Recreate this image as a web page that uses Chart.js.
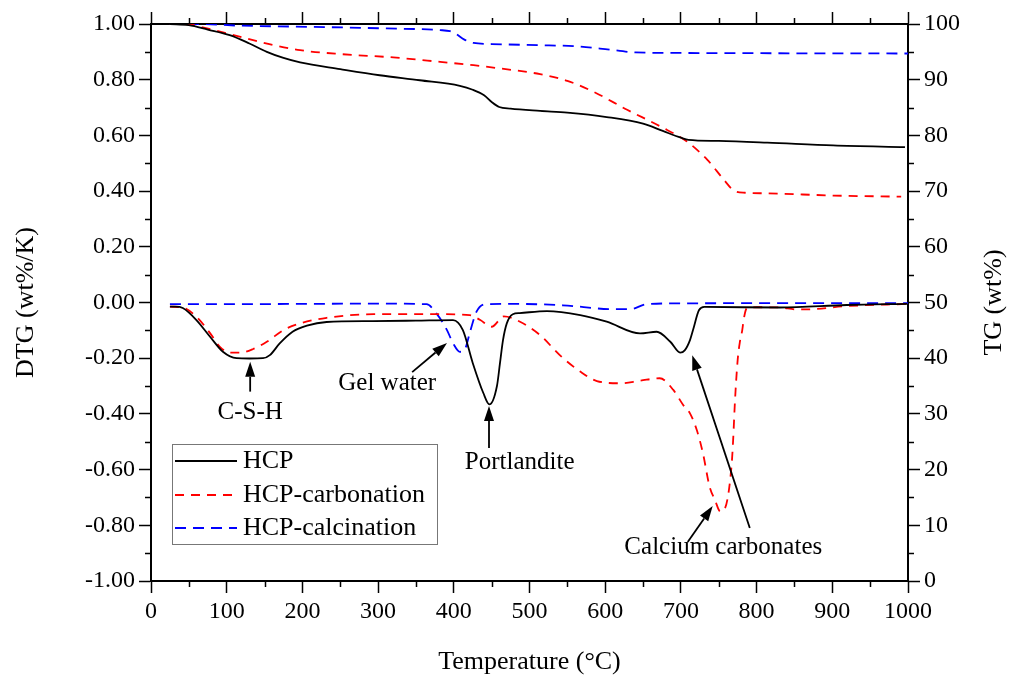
<!DOCTYPE html>
<html>
<head>
<meta charset="utf-8">
<script src="https://cdn.jsdelivr.net/npm/chart.js@4.4.1/dist/chart.umd.min.js"></script>
<style>
  html, body { margin: 0; padding: 0; background: #fff; }
</style>
</head>
<body>
<canvas id="tga" width="1011" height="680"></canvas>
<script>
// series names
const seriesNames = ["HCP", "HCP-carbonation", "HCP-calcination"];

// DTG curves (left axis, wt%/K)
const hcpDtgT = [25, 32, 42, 60, 78, 95, 113, 130, 148, 157, 170, 187, 206, 232, 293, 350, 399, 412, 425, 439, 447, 457, 461, 465, 470, 478, 487, 523, 567, 602, 646, 668, 686, 699, 705, 712, 716, 724, 731, 831, 919, 999];
const hcpDtg = [-0.015, -0.015, -0.02, -0.063, -0.123, -0.177, -0.2, -0.201, -0.2, -0.189, -0.147, -0.105, -0.083, -0.07, -0.067, -0.065, -0.063, -0.099, -0.217, -0.325, -0.366, -0.3, -0.218, -0.135, -0.075, -0.042, -0.038, -0.031, -0.045, -0.069, -0.111, -0.105, -0.141, -0.18, -0.172, -0.135, -0.099, -0.027, -0.016, -0.018, -0.009, -0.005];

const carbDtgT = [25, 42, 60, 78, 91, 104, 118, 135, 153, 175, 197, 232, 294, 382, 421, 435, 450, 466, 483, 514, 540, 567, 589, 620, 646, 672, 690, 703, 712, 721, 729, 738, 745, 752, 758, 767, 769, 771.5, 775, 778, 781, 783, 787, 800, 831, 853, 875, 919, 999];
const carbDtg = [-0.015, -0.018, -0.051, -0.11, -0.159, -0.18, -0.18, -0.167, -0.141, -0.099, -0.075, -0.055, -0.042, -0.042, -0.045, -0.063, -0.087, -0.05, -0.063, -0.117, -0.189, -0.248, -0.282, -0.29, -0.281, -0.272, -0.314, -0.368, -0.398, -0.458, -0.54, -0.662, -0.709, -0.75, -0.74, -0.583, -0.494, -0.35, -0.206, -0.14, -0.1, -0.06, -0.021, -0.017, -0.018, -0.025, -0.024, -0.013, -0.005];

const calcDtgT = [25, 100, 200, 300, 364, 377, 391, 399, 408, 415, 421, 430, 443, 480, 544, 611, 633, 655, 700, 1000];
const calcDtg = [-0.006, -0.006, -0.005, -0.004, -0.006, -0.039, -0.099, -0.146, -0.177, -0.166, -0.11, -0.033, -0.006, -0.005, -0.01, -0.024, -0.024, -0.006, -0.003, -0.002];

// TG curves (right axis, wt%)
const hcpTgT = [25, 50, 75, 104, 130, 153, 175, 197, 250, 302, 355, 408, 425, 440, 450, 460, 475, 514, 550, 602, 650, 676, 700, 710, 750, 814, 901, 996];
const hcpTg = [100, 99.8, 99.0, 98.0, 96.5, 95.0, 93.9, 93.1, 91.9, 90.8, 89.9, 88.9, 88.2, 87.2, 86.0, 85.1, 84.8, 84.4, 84.1, 83.3, 82.1, 80.8, 79.6, 79.2, 79.0, 78.7, 78.2, 77.9];

const carbTgT = [25, 52, 65, 104, 162, 197, 250, 320, 382, 426, 462, 514, 550, 585, 629, 673, 708, 735, 757, 770, 785, 814, 902, 991];
const carbTg = [100, 99.9, 99.5, 98.2, 96.2, 95.3, 94.6, 94.0, 93.2, 92.6, 92.0, 91.0, 89.8, 87.8, 84.6, 81.6, 78.9, 75.6, 72.0, 70.1, 69.7, 69.6, 69.2, 69.0];

const calcTgT = [25, 60, 118, 206, 311, 382, 395, 402, 414, 426, 450, 514, 560, 600, 640, 700, 1000];
const calcTg = [100, 100, 99.7, 99.5, 99.2, 98.9, 98.7, 98.3, 97.2, 96.6, 96.4, 96.2, 96.0, 95.5, 94.9, 94.8, 94.7];

// annotations (temperature, DTG)
const notes = [
  { text: "C-S-H", x: 131, y: -0.393 },
  { text: "Gel water", x: 312, y: -0.289 },
  { text: "Portlandite", x: 487, y: -0.576 },
  { text: "Calcium carbonates", x: 756, y: -0.878 }
];
const arrows = [
  { x1: 131, y1: -0.32, x2: 131, y2: -0.213 },
  { x1: 345, y1: -0.25, x2: 391, y2: -0.145 },
  { x1: 446.5, y1: -0.522, x2: 446.5, y2: -0.372 },
  { x1: 709, y1: -0.86, x2: 742, y2: -0.731 },
  { x1: 791, y1: -0.81, x2: 715, y2: -0.189 }
];

const colors = ["#000000", "#ff0000", "#0000ff"];
const dashes = [[], [9, 7], [11, 7]];

function pts(xs, ys) {
  return xs.map((x, i) => ({ x: x, y: ys[i] }));
}

function makeSet(i, xs, ys, axis) {
  return {
    label: seriesNames[i],
    data: pts(xs, ys),
    yAxisID: axis,
    borderColor: colors[i],
    borderDash: dashes[i],
    borderWidth: 1.8,
    pointRadius: 0,
    fill: false,
    cubicInterpolationMode: "monotone"
  };
}

const serif = '"Liberation Serif", "Times New Roman", serif';
Chart.defaults.font.family = serif;
Chart.defaults.color = "#000";

const tickFont = { family: serif, size: 24 };
const titleFont = { family: serif, size: 26 };

function axisGrid() {
  return { drawOnChartArea: false, drawTicks: true, tickLength: 12, tickWidth: 1.5, color: "#000" };
}
const axisBorder = { display: true, color: "#000", width: 2 };

// minor tick marks between the labelled ones
const minorTicks = {
  id: "minorTicks",
  afterDraw(chart) {
    const { ctx, chartArea: a, scales } = chart;
    const len = 6;
    ctx.save();
    ctx.strokeStyle = "#000";
    ctx.lineWidth = 1.5;
    ctx.beginPath();
    for (let v = 50; v < 1000; v += 100) {
      const px = Math.round(scales.x.getPixelForValue(v)) + 0.5;
      ctx.moveTo(px, a.bottom); ctx.lineTo(px, a.bottom + len);
      ctx.moveTo(px, a.top); ctx.lineTo(px, a.top - len);
    }
    for (let k = 0; k < 10; k++) {
      const py = Math.round(scales.y.getPixelForValue(-0.9 + k * 0.2)) + 0.5;
      ctx.moveTo(a.left, py); ctx.lineTo(a.left - len, py);
    }
    for (let v = 5; v < 100; v += 10) {
      const py = Math.round(scales.y2.getPixelForValue(v)) + 0.5;
      ctx.moveTo(a.right, py); ctx.lineTo(a.right + len, py);
    }
    ctx.stroke();

    // right axis title, reading bottom to top like the left one
    ctx.fillStyle = "#000";
    ctx.font = "26px " + serif;
    ctx.textAlign = "center";
    ctx.textBaseline = "middle";
    ctx.translate(994, (a.top + a.bottom) / 2);
    ctx.rotate(-Math.PI / 2);
    ctx.fillText("TG (wt%)", 0, 0);
    ctx.restore();
  }
};

// text labels and arrows
const notesPlugin = {
  id: "notes",
  afterDraw(chart) {
    const ctx = chart.ctx;
    const xs = chart.scales.x, ys = chart.scales.y;
    ctx.save();
    ctx.fillStyle = "#000";
    ctx.strokeStyle = "#000";
    ctx.font = "25px " + serif;
    ctx.textAlign = "center";
    ctx.textBaseline = "middle";
    notes.forEach(n => ctx.fillText(n.text, xs.getPixelForValue(n.x), ys.getPixelForValue(n.y)));
    arrows.forEach(ar => {
      const x1 = xs.getPixelForValue(ar.x1), y1 = ys.getPixelForValue(ar.y1);
      const x2 = xs.getPixelForValue(ar.x2), y2 = ys.getPixelForValue(ar.y2);
      const ang = Math.atan2(y2 - y1, x2 - x1);
      const hl = 15, hw = 5;
      const bx = x2 - hl * Math.cos(ang), by = y2 - hl * Math.sin(ang);
      ctx.lineWidth = 1.8;
      ctx.beginPath();
      ctx.moveTo(x1, y1);
      ctx.lineTo(bx, by);
      ctx.stroke();
      ctx.beginPath();
      ctx.moveTo(x2, y2);
      ctx.lineTo(bx + hw * Math.sin(ang), by - hw * Math.cos(ang));
      ctx.lineTo(bx - hw * Math.sin(ang), by + hw * Math.cos(ang));
      ctx.closePath();
      ctx.fill();
    });
    ctx.restore();
  }
};

// boxed legend inside the plot
const boxLegend = {
  id: "boxLegend",
  afterDraw(chart) {
    const ctx = chart.ctx;
    const left = 172, top = 444, w = 265, h = 100;
    const rows = [461, 495, 528];
    ctx.save();
    ctx.fillStyle = "#fff";
    ctx.fillRect(left, top, w, h);
    ctx.strokeStyle = "#777";
    ctx.lineWidth = 1;
    ctx.strokeRect(left + 0.5, top + 0.5, w, h);
    ctx.font = "26px " + serif;
    ctx.textBaseline = "middle";
    ctx.textAlign = "left";
    for (let i = 0; i < 3; i++) {
      const ds = chart.data.datasets[i];
      ctx.strokeStyle = ds.borderColor;
      ctx.lineWidth = 1.8;
      ctx.setLineDash(ds.borderDash);
      ctx.beginPath();
      ctx.moveTo(175, rows[i]);
      ctx.lineTo(237, rows[i]);
      ctx.stroke();
      ctx.setLineDash([]);
      ctx.fillStyle = "#000";
      ctx.fillText(ds.label, 243, rows[i]);
    }
    ctx.restore();
  }
};

new Chart(document.getElementById("tga"), {
  type: "line",
  data: {
    datasets: [
      makeSet(0, hcpDtgT, hcpDtg, "y"),
      makeSet(1, carbDtgT, carbDtg, "y"),
      makeSet(2, calcDtgT, calcDtg, "y"),
      makeSet(0, hcpTgT, hcpTg, "y2"),
      makeSet(1, carbTgT, carbTg, "y2"),
      makeSet(2, calcTgT, calcTg, "y2")
    ]
  },
  options: {
    responsive: false,
    animation: false,
    layout: { padding: 0 },
    plugins: { legend: { display: false }, tooltip: { enabled: false } },
    scales: {
      x: {
        type: "linear", position: "bottom", min: 0, max: 1000,
        ticks: { stepSize: 100, font: tickFont, color: "#000", padding: 4, maxRotation: 0,
          callback: v => String(v) },
        grid: axisGrid(), border: axisBorder,
        title: { display: true, text: "Temperature (°C)", font: titleFont, color: "#000", padding: { top: 0, bottom: 2 } },
        afterFit(s) { s.height = 99; }
      },
      x2: {
        type: "linear", position: "top", min: 0, max: 1000,
        ticks: { stepSize: 100, display: false },
        grid: axisGrid(), border: axisBorder,
        afterFit(s) { s.height = 24; }
      },
      y: {
        type: "linear", position: "left", min: -1, max: 1,
        ticks: { stepSize: 0.2, font: tickFont, color: "#000", padding: 4,
          callback: v => (Math.abs(v) < 1e-9 ? 0 : v).toFixed(2) },
        grid: axisGrid(), border: axisBorder,
        title: { display: true, text: "DTG (wt%/K)", font: titleFont, color: "#000", padding: { top: 11, bottom: 0 } },
        afterFit(s) { s.width = 151; }
      },
      y2: {
        type: "linear", position: "right", min: 0, max: 100,
        ticks: { stepSize: 10, font: tickFont, color: "#000", padding: 4 },
        grid: axisGrid(), border: axisBorder,
        afterFit(s) { s.width = 103; }
      }
    }
  },
  plugins: [minorTicks, notesPlugin, boxLegend]
});
</script>
</body>
</html>
